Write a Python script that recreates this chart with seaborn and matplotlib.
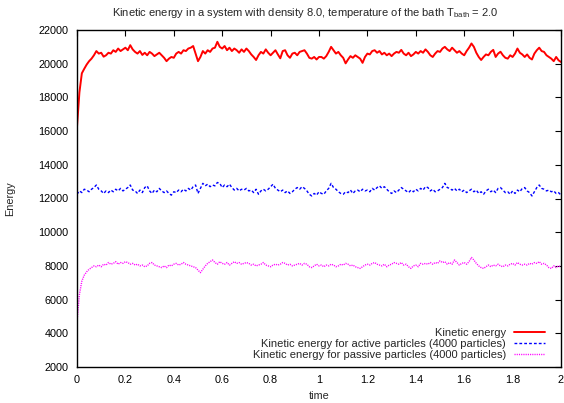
import numpy as np
import pandas as pd
import matplotlib
matplotlib.use("Agg")
import matplotlib.pyplot as plt
import seaborn as sns

kinetic_total = [
    16260, 18300, 19430, 19700, 19950, 20150, 20300, 20500, 20750, 20600,
    20650, 20417, 20500, 20650, 20600, 20800, 20700, 20900, 20750, 20850,
    20950, 20800, 21100, 20850, 20700, 20600, 20750, 20520, 20650, 20500,
    20700, 20600, 20450, 20550, 20650, 20500, 20350, 20150, 20300, 20400,
    20350, 20600, 20700, 20600, 20800, 20750, 20900, 20950, 21050, 20600,
    20150, 20400, 20750, 20600, 20800, 20700, 20900, 20950, 21300, 21000,
    20900, 21050, 20800, 20950, 20750, 20900, 20800, 20650, 20850, 20700,
    20900, 20750, 20550, 20400, 20220, 20500, 20700, 20600, 20850, 20650,
    20500, 20650, 20800, 20550, 20320, 20750, 20800, 20500, 20350, 20600,
    20650, 20500, 20700, 20750, 20800, 20600, 20350, 20300, 20400, 20250,
    20400, 20400, 20300, 20450, 20700, 21000, 20800, 20600, 20700, 20500,
    20350, 20020, 20250, 20450, 20350, 20500, 20400, 20300, 20050, 20400,
    20600, 20550, 20750, 20800, 20650, 20750, 20550, 20650, 20500, 20600,
    20450, 20600, 20700, 20650, 20820, 20600, 20500, 20650, 20450, 20550,
    20700, 20600, 20750, 20650, 20850, 20700, 20500, 20400, 20600, 20750,
    20700, 20900, 21000, 20850, 20750, 20950, 20800, 20650, 20750, 20600,
    20500, 20750, 20950, 21200, 21000, 20650, 20400, 20220, 20400, 20550,
    20500, 20700, 20820, 20400, 20600, 20710, 20500, 20350, 20300, 20500,
    20400, 20600, 20900, 20650, 20550, 20400, 20550, 20350, 20250, 20600,
    20800, 20950, 20750, 20700, 20500, 20400, 20300, 20150, 20400, 20200,
    20100,
]
kinetic_active = [
    12250, 12450, 12350, 12550, 12500, 12400, 12550, 12650, 12800, 12550,
    12450, 12300, 12450, 12350, 12500, 12400, 12550, 12450, 12600, 12450,
    12550, 12650, 12800, 12500, 12450, 12300, 12500, 12350, 12650, 12750,
    12450, 12300, 12500, 12400, 12600, 12450, 12350, 12450, 12300, 12200,
    12400, 12350, 12500, 12400, 12550, 12450, 12600, 12500, 12700, 12800,
    12300, 12600, 12900, 12750, 12850, 12700, 12800, 12750, 12950, 12900,
    12650, 12800, 12700, 12850, 12650, 12500, 12600, 12450, 12550, 12500,
    12600, 12450, 12500, 12350, 12550, 12250, 12450, 12550, 12450, 12550,
    12700, 12850, 12600, 12500, 12400, 12500, 12350, 12450, 12300, 12400,
    12550, 12650, 12550, 12700, 12600, 12450, 12250, 12150, 12300, 12200,
    12400, 12300, 12250, 12450, 12600, 12900, 12650, 12550, 12400, 12300,
    12250, 12400, 12350, 12500, 12300, 12450, 12500, 12400, 12550, 12450,
    12500, 12400, 12600, 12500, 12650, 12750, 12600, 12700, 12550, 12400,
    12300, 12450, 12350, 12500, 12650, 12550, 12450, 12350, 12500, 12400,
    12550, 12450, 12600, 12500, 12700, 12650, 12450, 12550, 12400, 12450,
    12550, 12650, 12900, 12650, 12600, 12500, 12600, 12450, 12550, 12400,
    12500, 12350, 12450, 12550, 12400, 12500, 12300, 12400, 12250, 12450,
    12550, 12400, 12500, 12350, 12600, 12650, 12500, 12350, 12400, 12250,
    12450, 12300, 12500, 12400, 12600, 12650, 12450, 12350, 12150, 12400,
    12650, 12800, 12600, 12550, 12450, 12500, 12400, 12450, 12300, 12350,
    12200,
]
kinetic_passive = [
    4700, 6300, 7100, 7450, 7650, 7800, 7900, 8000, 7950, 8050,
    7950, 8100, 8050, 8200, 8100, 8150, 8250, 8100, 8200, 8150,
    8250, 8200, 8100, 8150, 8050, 8100, 8000, 8050, 7950, 8000,
    8150, 8200, 8050, 8000, 7950, 7900, 8000, 7900, 8050, 8000,
    8100, 8150, 8050, 8100, 8200, 8100, 8050, 8000, 7950, 7900,
    7750, 7600, 7800, 8000, 8150, 8250, 8350, 8200, 8100, 8250,
    8150, 8100, 8200, 8050, 8150, 8250, 8150, 8200, 8100, 8150,
    8200, 8150, 8050, 8100, 8000, 8050, 8100, 8200, 8050, 8000,
    7950, 8050, 8100, 8050, 8100, 8200, 8150, 8050, 8100, 8000,
    8050, 8100, 8150, 8050, 8150, 8100, 7950, 7900, 8000, 8100,
    8000, 8050, 7950, 8050, 8000, 8100, 8050, 7950, 8000, 8100,
    8050, 8150, 8100, 8000, 8050, 7950, 7900, 7850, 7950, 8050,
    8100, 8050, 8150, 8200, 8100, 8050, 8000, 8100, 7950, 8050,
    8100, 8200, 8150, 8100, 8200, 8050, 8100, 7950, 7850, 8000,
    8050, 7950, 8150, 8100, 8150, 8100, 8200, 8100, 8200, 8150,
    8300, 8200, 8250, 8100, 8200, 8100, 8350, 8200, 8050, 8150,
    8200, 8100, 8250, 8500, 8350, 8150, 8000, 7900, 7850, 7950,
    8050, 7950, 8050, 8000, 8100, 8000, 7950, 8050, 8000, 8100,
    8150, 8050, 8200, 8100, 8050, 8100, 8050, 8150, 8100, 8200,
    8150, 8250, 8100, 8150, 8050, 7900, 7850, 8000, 7900, 8000,
    7950,
]
time = np.round(np.arange(len(kinetic_total)) * 0.01, 2)

series_labels = [
    "Kinetic energy",
    "Kinetic energy for active particles (4000 particles)",
    "Kinetic energy for passive particles (4000 particles)",
]
x_ticks = [0, 0.2, 0.4, 0.6, 0.8, 1, 1.2, 1.4, 1.6, 1.8, 2]
x_tick_labels = ["0", "0.2", "0.4", "0.6", "0.8", "1", "1.2", "1.4", "1.6", "1.8", "2"]
y_ticks = list(range(2000, 22001, 2000))

# ---- style ----
sns.set_style("white")
plt.rcParams["font.family"] = ["Liberation Sans", "DejaVu Sans"]
plt.rcParams["mathtext.fontset"] = "custom"
plt.rcParams["mathtext.rm"] = "Liberation Sans"
plt.rcParams["mathtext.it"] = "Liberation Sans"

fig = plt.figure(figsize=(5.64, 4.03), dpi=100)
ax = fig.add_axes([77 / 564, 1 - 367 / 403, (561 - 77) / 564, (367 - 30) / 403])

df = pd.DataFrame({"time": time, "total": kinetic_total,
                   "active": kinetic_active, "passive": kinetic_passive})

sns.lineplot(data=df, x="time", y="total", ax=ax, color="#ff0000",
             linewidth=1.4, label=series_labels[0])
sns.lineplot(data=df, x="time", y="active", ax=ax, color="#0000ff",
             linewidth=1.0, dashes=False, label=series_labels[1])
sns.lineplot(data=df, x="time", y="passive", ax=ax, color="#ff00ff",
             linewidth=1.0, dashes=False, label=series_labels[2])
lines = ax.get_lines()
lines[1].set_dashes([2, 1.5])
lines[2].set_dashes([0.8, 0.8])

ax.set_xlim(0, 2)
ax.set_ylim(2000, 22000)
ax.set_xticks(x_ticks)
ax.set_xticklabels(x_tick_labels)
ax.set_yticks(y_ticks)
ax.tick_params(direction="in", length=4, width=0.8, top=True, right=True,
               labelsize=7.8, colors="black", pad=6)
for s in ax.spines.values():
    s.set_color("black")
    s.set_linewidth(1.0)

ax.set_xlabel("time", fontsize=7.8, labelpad=4)
ax.set_ylabel("Energy", fontsize=7.8, labelpad=17)
fig.text(305 / 564, 1 - 13 / 403,
         r"Kinetic energy in a system with density 8.0, temperature of the bath T$_{\mathrm{bath}}$ = 2.0",
         fontsize=8, ha="center", va="center")

leg = ax.legend(loc="lower right", bbox_to_anchor=(0.981, 0.0), frameon=False,
                fontsize=8, markerfirst=False, handlelength=2.8,
                handletextpad=0.7, labelspacing=0.1, borderaxespad=0.2)

fig.savefig("out.png", dpi=100)
